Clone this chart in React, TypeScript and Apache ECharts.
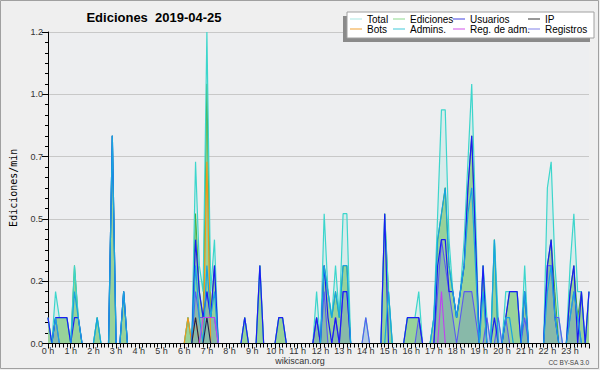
import React, { useEffect, useRef } from "react";
import * as echarts from "echarts";

// Tick labels
const HOURS = [
  "0 h", "1 h", "2 h", "3 h", "4 h", "5 h", "6 h", "7 h", "8 h", "9 h", "10 h", "11 h",
  "12 h", "13 h", "14 h", "15 h", "16 h", "17 h", "18 h", "19 h", "20 h", "21 h", "22 h", "23 h",
];
const Y_LABELS = ["0.0", "0.2", "0.5", "0.7", "1.0", "1.2"];

// Values per 10-minute bin (edits per minute), one row per hour
const total = [
  0.1, 0, 0.2, 0.1, 0.1, 0.1,
  0, 0.3, 0.1, 0, 0, 0,
  0, 0.1, 0, 0, 0, 0.8,
  0, 0, 0.2, 0, 0, 0,
  0, 0, 0, 0, 0, 0,
  0, 0, 0, 0, 0, 0,
  0, 0.1, 0, 0.7, 0.3, 0.2,
  1.2, 0.2, 0.4, 0, 0, 0,
  0, 0, 0, 0, 0.1, 0,
  0, 0, 0.3, 0, 0, 0,
  0, 0.1, 0.1, 0, 0, 0,
  0, 0, 0, 0, 0, 0.2,
  0, 0.5, 0.2, 0.1, 0.3, 0.1,
  0.5, 0.5, 0, 0, 0, 0,
  0.1, 0, 0, 0, 0, 0.5,
  0.2, 0, 0, 0, 0, 0.1,
  0.1, 0.1, 0.2, 0, 0, 0,
  0.1, 0.5, 0.9, 0.9, 0.4, 0.2,
  0.1, 0.2, 0.4, 0.7, 1.0, 0.5,
  0, 0.3, 0.1, 0, 0.4, 0.1,
  0, 0.2, 0.2, 0.2, 0.2, 0,
  0.3, 0, 0, 0, 0, 0,
  0.6, 0.7, 0.3, 0.1, 0, 0,
  0.3, 0.5, 0.2, 0.2, 0, 0.2,
];
const ediciones = [
  0.1, 0, 0.1, 0.1, 0.1, 0.1,
  0, 0.3, 0.1, 0, 0, 0,
  0, 0.1, 0, 0, 0, 0.8,
  0, 0, 0.2, 0, 0, 0,
  0, 0, 0, 0, 0, 0,
  0, 0, 0, 0, 0, 0,
  0, 0.1, 0, 0.5, 0.2, 0.1,
  1.0, 0.1, 0.3, 0, 0, 0,
  0, 0, 0, 0, 0.1, 0,
  0, 0, 0.3, 0, 0, 0,
  0, 0.1, 0.1, 0, 0, 0,
  0, 0, 0, 0, 0, 0.1,
  0, 0.3, 0.2, 0.1, 0.2, 0.1,
  0.3, 0.3, 0, 0, 0, 0,
  0, 0, 0, 0, 0, 0.5,
  0.2, 0, 0, 0, 0, 0.1,
  0.1, 0.1, 0.1, 0, 0, 0,
  0.1, 0.4, 0.5, 0.6, 0.3, 0.2,
  0.1, 0.2, 0.3, 0.6, 0.8, 0.4,
  0, 0.3, 0, 0, 0.4, 0,
  0, 0.1, 0.2, 0.2, 0.2, 0,
  0.2, 0, 0, 0, 0, 0,
  0.3, 0.4, 0.2, 0, 0, 0,
  0.2, 0.3, 0.1, 0.2, 0, 0.2,
];
const usuarios = [
  0.1, 0, 0.1, 0.1, 0.1, 0.1,
  0, 0.1, 0.1, 0, 0, 0,
  0, 0, 0, 0, 0, 0.8,
  0, 0, 0.2, 0, 0, 0,
  0, 0, 0, 0, 0, 0,
  0, 0, 0, 0, 0, 0,
  0, 0, 0, 0.4, 0.2, 0.1,
  0.2, 0.1, 0.3, 0, 0, 0,
  0, 0, 0, 0, 0.1, 0,
  0, 0, 0.3, 0, 0, 0,
  0, 0.1, 0.1, 0, 0, 0,
  0, 0, 0, 0, 0, 0.1,
  0, 0.3, 0.1, 0, 0.1, 0,
  0.2, 0.2, 0, 0, 0, 0,
  0, 0, 0, 0, 0, 0.5,
  0, 0, 0, 0, 0, 0.1,
  0.1, 0.1, 0.1, 0, 0, 0,
  0, 0.3, 0.4, 0.4, 0.2, 0.2,
  0.1, 0.2, 0.3, 0.6, 0.8, 0.4,
  0, 0.3, 0, 0, 0.1, 0,
  0, 0.1, 0.2, 0.2, 0.2, 0,
  0.2, 0, 0, 0, 0, 0,
  0.3, 0.4, 0.1, 0, 0, 0,
  0.2, 0.3, 0, 0.2, 0, 0.2,
];
const ip = [
  0, 0, 0, 0, 0, 0,
  0, 0, 0, 0, 0, 0,
  0, 0, 0, 0, 0, 0,
  0, 0, 0, 0, 0, 0,
  0, 0, 0, 0, 0, 0,
  0, 0, 0, 0, 0, 0,
  0, 0, 0, 0.1, 0, 0,
  0.1, 0, 0, 0, 0, 0,
  0, 0, 0, 0, 0, 0,
  0, 0, 0, 0, 0, 0,
  0, 0, 0, 0, 0, 0,
  0, 0, 0, 0, 0, 0,
  0, 0, 0, 0, 0, 0,
  0, 0, 0, 0, 0, 0,
  0, 0, 0, 0, 0, 0,
  0, 0, 0, 0, 0, 0,
  0, 0, 0, 0, 0, 0,
  0, 0, 0, 0, 0, 0,
  0, 0, 0, 0, 0, 0,
  0, 0, 0, 0, 0, 0,
  0, 0, 0, 0, 0, 0,
  0, 0, 0, 0, 0, 0,
  0, 0, 0, 0, 0, 0,
  0, 0, 0, 0, 0, 0,
];
const bots = [
  0, 0, 0, 0, 0, 0,
  0, 0, 0, 0, 0, 0,
  0, 0, 0, 0, 0, 0,
  0, 0, 0, 0, 0, 0,
  0, 0, 0, 0, 0, 0,
  0, 0, 0, 0, 0, 0,
  0, 0.1, 0, 0.1, 0, 0,
  0.7, 0, 0, 0, 0, 0,
  0, 0, 0, 0, 0, 0,
  0, 0, 0, 0, 0, 0,
  0, 0, 0, 0, 0, 0,
  0, 0, 0, 0, 0, 0,
  0, 0, 0, 0, 0, 0,
  0, 0, 0, 0, 0, 0,
  0, 0, 0, 0, 0, 0,
  0, 0, 0, 0, 0, 0,
  0, 0, 0, 0, 0, 0,
  0, 0, 0, 0, 0, 0,
  0, 0, 0, 0, 0, 0,
  0, 0, 0, 0, 0, 0,
  0, 0, 0, 0, 0, 0,
  0, 0, 0, 0, 0, 0,
  0, 0, 0, 0, 0, 0,
  0, 0, 0, 0, 0, 0,
];
const admins = [
  0, 0, 0.1, 0, 0, 0,
  0, 0.2, 0.1, 0, 0, 0,
  0, 0.1, 0, 0, 0, 0.8,
  0, 0, 0.2, 0, 0, 0,
  0, 0, 0, 0, 0, 0,
  0, 0, 0, 0, 0, 0,
  0, 0, 0, 0.3, 0.1, 0,
  0.3, 0.1, 0.2, 0, 0, 0,
  0, 0, 0, 0, 0, 0,
  0, 0, 0, 0, 0, 0,
  0, 0, 0, 0, 0, 0,
  0, 0, 0, 0, 0, 0,
  0, 0.3, 0.2, 0.1, 0.2, 0.1,
  0.3, 0.3, 0, 0, 0, 0,
  0, 0, 0, 0, 0, 0,
  0.2, 0, 0, 0, 0, 0,
  0, 0, 0, 0, 0, 0,
  0.1, 0.4, 0.5, 0.6, 0.3, 0.2,
  0.1, 0.2, 0.3, 0.5, 0.6, 0.3,
  0, 0.2, 0, 0, 0.4, 0,
  0, 0.1, 0.1, 0, 0, 0,
  0.2, 0, 0, 0, 0, 0,
  0.2, 0.3, 0.1, 0, 0, 0,
  0.1, 0.2, 0.1, 0, 0, 0,
];
const regAdm = [
  0, 0, 0, 0, 0, 0,
  0, 0, 0, 0, 0, 0,
  0, 0, 0, 0, 0, 0,
  0, 0, 0, 0, 0, 0,
  0, 0, 0, 0, 0, 0,
  0, 0, 0, 0, 0, 0,
  0, 0, 0, 0, 0, 0.1,
  0.1, 0.1, 0.1, 0, 0, 0,
  0, 0, 0, 0, 0, 0,
  0, 0, 0, 0, 0, 0,
  0, 0, 0, 0, 0, 0,
  0, 0, 0, 0, 0, 0,
  0, 0, 0, 0, 0, 0,
  0, 0, 0, 0, 0, 0,
  0, 0, 0, 0, 0, 0,
  0, 0, 0, 0, 0, 0,
  0, 0, 0, 0, 0, 0,
  0, 0, 0.2, 0, 0, 0,
  0, 0, 0, 0, 0, 0,
  0, 0, 0, 0, 0, 0,
  0, 0, 0, 0, 0, 0,
  0, 0, 0, 0, 0, 0,
  0, 0, 0, 0, 0, 0,
  0, 0, 0, 0, 0, 0,
];
const registros = [
  0, 0, 0.1, 0, 0, 0,
  0, 0, 0, 0, 0, 0,
  0, 0, 0, 0, 0, 0,
  0, 0, 0, 0, 0, 0,
  0, 0, 0, 0, 0, 0,
  0, 0, 0, 0, 0, 0,
  0, 0, 0, 0.2, 0.1, 0.1,
  0.2, 0.1, 0.1, 0, 0, 0,
  0, 0, 0, 0, 0, 0,
  0, 0, 0, 0, 0, 0,
  0, 0, 0, 0, 0, 0,
  0, 0, 0, 0, 0, 0.1,
  0, 0.2, 0, 0, 0.1, 0,
  0.2, 0.2, 0, 0, 0, 0,
  0.1, 0, 0, 0, 0, 0,
  0, 0, 0, 0, 0, 0,
  0, 0, 0.1, 0, 0, 0,
  0, 0.2, 0.4, 0.3, 0.2, 0.1,
  0, 0.1, 0.2, 0.2, 0.2, 0.1,
  0, 0, 0.1, 0, 0, 0.1,
  0, 0.1, 0, 0, 0, 0,
  0.1, 0, 0, 0, 0, 0,
  0.3, 0.3, 0.1, 0.1, 0, 0,
  0.1, 0.2, 0.1, 0, 0, 0,
];

const FONT = "'Liberation Sans', Arial, sans-serif";

const LEGEND_COLS = [
  { left: 350, items: [["Total", "#a8e6e2"], ["Bots", "#f0a030"]] },
  { left: 393, items: [["Ediciones", "#8cd88c"], ["Admins.", "#40c8d8"]] },
  { left: 453, items: [["Usuarios", "#4040e0"], ["Reg. de adm.", "#d050e8"]] },
  { left: 528, items: [["IP", "#303030"], ["Registros", "#8080e8"]] },
];

function lineSeries(name: string, values: number[], color: string, width: number, area?: string) {
  return {
    name,
    type: "line",
    data: values.map((v, i) => [i, v]),
    symbol: "none",
    showSymbol: false,
    silent: true,
    emphasis: { disabled: true },
    lineStyle: { color, width },
    itemStyle: { color },
    areaStyle: area ? { color: area, opacity: 1 } : undefined,
    z: 2,
  };
}

export default function App() {
  const ref = useRef<HTMLDivElement>(null);
  useEffect(() => {
    if (!ref.current) return;
    const chart = echarts.init(ref.current, undefined, { renderer: "svg" });
    const totalArea: any = lineSeries("Total", total, "#3cd6cc", 0, "rgba(140,225,215,0.2)");
    totalArea.lineStyle = { width: 0, opacity: 0 };
    const option: any = {
      animation: false,
      backgroundColor: "#efefef",
      grid: {
        left: 46, right: 11, top: 32, bottom: 26.5,
        show: true, backgroundColor: "#edeef0", borderWidth: 0,
      },
      xAxis: {
        type: "value", min: 0, max: 143, interval: 6, z: 5,
        axisLine: { show: true, onZero: false, lineStyle: { color: "#000", width: 1 } },
        axisTick: { show: true, length: 5, lineStyle: { color: "#000" } },
        minorTick: { show: true, splitNumber: 6, length: 4, lineStyle: { color: "#000" } },
        axisLabel: {
          formatter: (v: number) => (v % 6 === 0 ? HOURS[v / 6] : ""),
          fontSize: 9, color: "#333", margin: 3, fontFamily: FONT,
        },
        splitLine: { show: false },
        minorSplitLine: { show: false },
      },
      yAxis: {
        type: "value", min: 0, max: 1.2, interval: 0.24,
        name: "Ediciones/min", nameLocation: "middle", nameGap: 30, nameRotate: 90,
        nameTextStyle: { fontFamily: "'DejaVu Sans Mono', monospace", fontSize: 10, color: "#000" },
        axisLine: { show: true, lineStyle: { color: "#000", width: 1 } },
        axisTick: { show: true, length: 6, lineStyle: { color: "#000" } },
        minorTick: { show: true, splitNumber: 6, length: 3, lineStyle: { color: "#000" } },
        axisLabel: {
          formatter: (v: number) => Y_LABELS[Math.round(v / 0.24)] ?? "",
          fontSize: 9, color: "#333", margin: 5, fontFamily: FONT,
        },
        splitLine: { show: true, lineStyle: { color: "#c8c8c8", width: 1 } },
      },
      legend: LEGEND_COLS.map((col) => ({
        orient: "vertical",
        left: col.left,
        top: 14,
        padding: 0,
        itemGap: 0,
        itemWidth: 12,
        itemHeight: 1,
        icon: "rect",
        selectedMode: false,
        textStyle: { fontSize: 10, fontFamily: FONT, color: "#000", lineHeight: 10, padding: 0 },
        data: col.items.map(([name, color]) => ({ name, itemStyle: { color }, lineStyle: { color } })),
      })),
      graphic: [
        { type: "rect", z: 0, shape: { x: 0.5, y: 0.5, width: 598, height: 368 }, style: { fill: "none", stroke: "#a0a0a0", lineWidth: 1 } },
        { type: "rect", z: 1, shape: { x: 343, y: 16, width: 247, height: 26 }, style: { fill: "#8a8a8a" } },
        { type: "rect", z: 1, shape: { x: 347, y: 12, width: 247, height: 26 }, style: { fill: "#ffffff", stroke: "#a0a0a0", lineWidth: 1 } },
        {
          type: "text", z: 5, x: 154, y: 17,
          style: { text: "Ediciones  2019-04-25", font: `bold 13px ${FONT}`, fill: "#000", align: "center", verticalAlign: "middle" },
        },
        {
          type: "text", z: 5, x: 300, y: 361,
          style: { text: "wikiscan.org", font: `9px ${FONT}`, fill: "#333", align: "center", verticalAlign: "middle" },
        },
        {
          type: "text", z: 5, x: 589, y: 362,
          style: { text: "CC BY-SA 3.0", font: `6.5px ${FONT}`, fill: "#444", align: "right", verticalAlign: "middle" },
        },
      ],
      series: [
        totalArea,
        lineSeries("Ediciones", ediciones, "#40b040", 1, "#98d29a"),
        lineSeries("Total", total, "#3cd6cc", 1.2),
        lineSeries("Registros", registros, "#5a5af0", 1.1, "rgba(100,128,205,0.3)"),
        lineSeries("Bots", bots, "#f09818", 1.2),
        lineSeries("Usuarios", usuarios, "#1c1cf4", 1.2),
        lineSeries("Admins.", admins, "#18a4e0", 1.2),
        lineSeries("IP", ip, "#202050", 1.1),
        lineSeries("Reg. de adm.", regAdm, "#c040f0", 1.1),
      ],
    };
    chart.setOption(option);
    return () => chart.dispose();
  }, []);
  return (
    <div
      ref={ref}
      style={{ position: "fixed", left: 0, top: 0, width: 600, height: 370 }}
    />
  );
}
